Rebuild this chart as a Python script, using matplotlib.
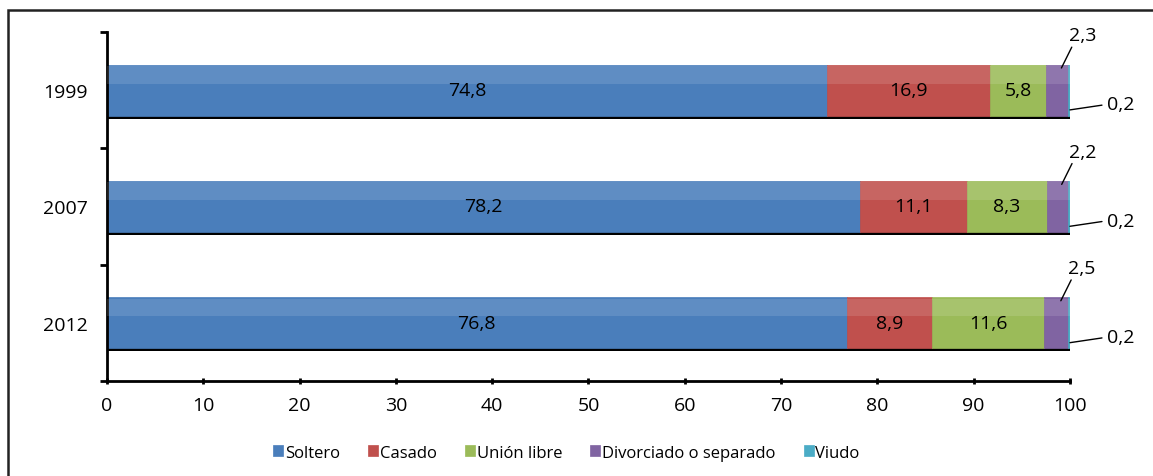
import matplotlib.pyplot as plt
from matplotlib.patches import Rectangle

plt.rcParams['font.family'] = ['Open Sans', 'DejaVu Sans']

years = ["1999", "2007", "2012"]
categories = ["Soltero", "Casado", "Unión libre", "Divorciado o separado", "Viudo"]
soltero = [74.8, 78.2, 76.8]
casado = [16.9, 11.1, 8.9]
union_libre = [5.8, 8.3, 11.6]
divorciado = [2.3, 2.2, 2.5]
viudo = [0.2, 0.2, 0.2]
series = [soltero, casado, union_libre, divorciado, viudo]
colors = ['#4a7ebb', '#c0504d', '#9bbb59', '#8064a2', '#4bacc6']

FONT_SIZE = 14
BAR_H = 0.44

fig = plt.figure(figsize=(11.53, 4.77), dpi=100)
ax = fig.add_axes([0.0928, 0.199, 0.8352, 0.732])

ypos = list(range(len(years)))
left = [0.0] * len(years)
for name, vals, col in zip(categories, series, colors):
    # shadow below each segment
    ax.barh([y + 0.025 for y in ypos], vals, left=left, height=BAR_H,
            color='black', zorder=1)
    ax.barh(ypos, vals, left=left, height=BAR_H, color=col, label=name,
            edgecolor=col, linewidth=0.5, zorder=2)
    # soft highlight on the upper part
    ax.barh([y - BAR_H * 0.3 for y in ypos], vals, left=left,
            height=BAR_H * 0.35, color='white', alpha=0.12, linewidth=0, zorder=3)
    for i, v in enumerate(vals):
        if v > 5:
            ax.text(left[i] + v / 2, ypos[i], f"{v:.1f}".replace('.', ','),
                    ha='center', va='center', fontsize=FONT_SIZE, zorder=4)
    left = [l + v for l, v in zip(left, vals)]

# callouts for small segments
for i in range(len(years)):
    d_start = soltero[i] + casado[i] + union_libre[i]
    ax.annotate(f"{divorciado[i]:.1f}".replace('.', ','),
                xy=(d_start + divorciado[i] * 0.7, ypos[i] - BAR_H / 2 + 0.03),
                xytext=(15, 17), textcoords='offset points',
                ha='center', va='bottom', fontsize=FONT_SIZE,
                arrowprops=dict(arrowstyle='-', lw=1, color='black',
                                shrinkA=0, shrinkB=0, relpos=(0.2, 0.1)))
    ax.annotate(f"{viudo[i]:.1f}".replace('.', ','),
                xy=(100, ypos[i] + BAR_H / 2 - 0.05),
                xytext=(27, 4), textcoords='offset points',
                ha='left', va='center', fontsize=FONT_SIZE,
                arrowprops=dict(arrowstyle='-', lw=1, color='black',
                                shrinkA=2, shrinkB=0, relpos=(0, 0.5)))

ax.set_xlim(0, 100)
ax.set_ylim(2.5, -0.5)
ax.set_xticks(range(0, 101, 10))
ax.set_yticks(ypos)
ax.set_yticklabels(years)
ax.set_yticks([-0.5, 0.5, 1.5, 2.5], minor=True)
ax.tick_params(axis='y', which='major', length=0, pad=14, labelsize=FONT_SIZE)
ax.tick_params(axis='y', which='minor', length=5, width=2, direction='out')
ax.tick_params(axis='x', length=5, width=2, direction='inout', pad=8, labelsize=FONT_SIZE)
for s in ['top', 'right']:
    ax.spines[s].set_visible(False)
for s in ['left', 'bottom']:
    ax.spines[s].set_linewidth(2)

ax.legend(loc='center', bbox_to_anchor=(0.477, -0.205), ncol=5, frameon=False,
          fontsize=12, handlelength=0.6, handleheight=0.6, handletextpad=0.1,
          columnspacing=1.7)

fig.patches.append(Rectangle((8 / 1153, -0.1), 1.2, 1 - 11 / 477 + 0.1,
                             transform=fig.transFigure, fill=False,
                             edgecolor='#222222', linewidth=1.8))

plt.savefig("out.png", dpi=100)
